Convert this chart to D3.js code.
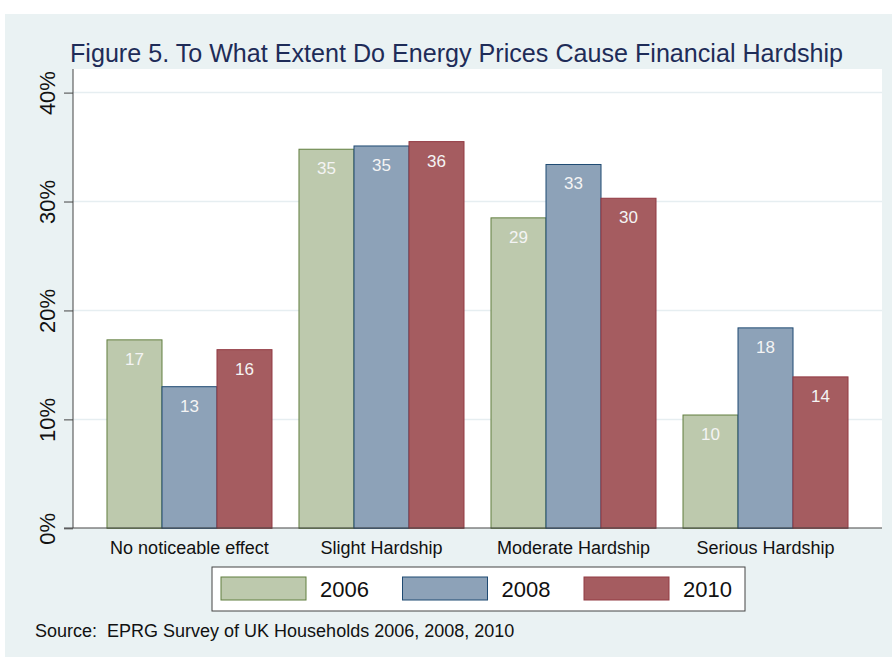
<!DOCTYPE html>
<html>
<head>
<meta charset="utf-8">
<script src="https://cdn.jsdelivr.net/npm/d3@7"></script>
<style>
  body { margin: 0; background: #fff; }
  text { font-family: "Liberation Sans", Arial, sans-serif; }
</style>
</head>
<body>
<div id="chart"></div>
<script>
//data
const categories = ["No noticeable effect", "Slight Hardship", "Moderate Hardship", "Serious Hardship"];
const years = ["2006", "2008", "2010"];
const values2006 = [17.3, 34.8, 28.5, 10.4];
const values2008 = [13.0, 35.1, 33.4, 18.4];
const values2010 = [16.4, 35.5, 30.3, 13.9];
const yTicks = [0, 10, 20, 30, 40];

const series = [values2006, values2008, values2010];

//size
const width = 892;
const height = 657;

//plot region
const plot = { left: 73, right: 882, top: 69, bottom: 528 };

//colours per year
const fills = ["#bdc9ad", "#8da2b8", "#a55c60"];
const strokes = ["#617e3f", "#1f4a72", "#923a43"];

const svg = d3.select("#chart")
  .append("svg")
  .attr("width", width)
  .attr("height", height);

//graph region background
svg.append("rect")
  .attr("x", 5).attr("y", 14)
  .attr("width", width - 5).attr("height", height - 14)
  .attr("fill", "#eaf2f3");

//plot region
svg.append("rect")
  .attr("x", plot.left).attr("y", plot.top)
  .attr("width", plot.right - plot.left).attr("height", plot.bottom - plot.top)
  .attr("fill", "#ffffff");

//scales
const x0 = d3.scaleBand()
  .domain(categories)
  .range([plot.left, plot.right])
  .paddingInner(0.1406)
  .paddingOuter(0.177);

const x1 = d3.scaleBand()
  .domain(years)
  .range([0, x0.bandwidth()]);

const y = d3.scaleLinear().domain([0, 40]).range([528.3, 92.6]);

//gridlines
svg.append("g")
  .selectAll("line")
  .data(yTicks.filter((d) => d > 0))
  .enter()
  .append("line")
  .attr("x1", plot.left).attr("x2", plot.right)
  .attr("y1", (d) => y(d)).attr("y2", (d) => y(d))
  .attr("stroke", "#e6eef1")
  .attr("stroke-width", 1.5);

//y axis
const yAxis = svg.append("g")
  .attr("transform", `translate(${plot.left},0)`)
  .call(d3.axisLeft(y).tickValues(yTicks).tickSize(9).tickSizeOuter(0).tickFormat((d) => d + "%"));

yAxis.select(".domain").remove();
yAxis.selectAll("line").attr("stroke", "#444");
yAxis.selectAll("text")
  .attr("transform", "rotate(-90)")
  .attr("x", 0)
  .attr("y", -18)
  .attr("dy", 0)
  .attr("text-anchor", "middle")
  .attr("font-size", 22)
  .attr("fill", "#111");

//axis lines
svg.append("line")
  .attr("x1", plot.left).attr("x2", plot.left)
  .attr("y1", plot.top).attr("y2", plot.bottom)
  .attr("stroke", "#444");

//bars
const groups = svg.append("g")
  .selectAll("g.group")
  .data(categories)
  .enter()
  .append("g")
  .attr("class", "group")
  .attr("transform", (d) => `translate(${x0(d)},0)`);

const bars = groups.selectAll("g.bar")
  .data((d, i) => years.map((yr, j) => ({ year: yr, j: j, value: series[j][i] })))
  .enter()
  .append("g")
  .attr("class", "bar");

bars.append("rect")
  .attr("x", (d) => x1(d.year))
  .attr("y", (d) => y(d.value))
  .attr("width", x1.bandwidth())
  .attr("height", (d) => y(0) - y(d.value))
  .attr("fill", (d) => fills[d.j])
  .attr("stroke", (d) => strokes[d.j])
  .attr("stroke-width", 1);

//value labels
bars.append("text")
  .attr("x", (d) => x1(d.year) + x1.bandwidth() / 2)
  .attr("y", (d) => y(d.value) + 25)
  .attr("text-anchor", "middle")
  .attr("font-size", 17)
  .attr("fill", "#f4f4f4")
  .text((d) => Math.round(d.value));

//x axis line
svg.append("line")
  .attr("x1", 64).attr("x2", plot.right)
  .attr("y1", plot.bottom).attr("y2", plot.bottom)
  .attr("stroke", "#444");

//category labels
svg.append("g")
  .selectAll("text")
  .data(categories)
  .enter()
  .append("text")
  .attr("x", (d) => x0(d) + x0.bandwidth() / 2)
  .attr("y", 554)
  .attr("text-anchor", "middle")
  .attr("font-size", 18)
  .attr("fill", "#111")
  .text((d) => d);

//title
svg.append("text")
  .attr("x", 70)
  .attr("y", 62)
  .attr("font-size", 26)
  .attr("fill", "#1e2c58")
  .attr("textLength", 773)
  .attr("lengthAdjust", "spacingAndGlyphs")
  .text("Figure 5. To What Extent Do Energy Prices Cause Financial Hardship");

//legend
const legend = svg.append("g");
legend.append("rect")
  .attr("x", 212).attr("y", 567)
  .attr("width", 533).attr("height", 44)
  .attr("fill", "#fff")
  .attr("stroke", "#444");

const item = legend.selectAll("g.item")
  .data(years)
  .enter()
  .append("g")
  .attr("class", "item")
  .attr("transform", (d, i) => `translate(${221 + i * 181.5},577)`);

item.append("rect")
  .attr("width", 85).attr("height", 23)
  .attr("fill", (d, i) => fills[i])
  .attr("stroke", (d, i) => strokes[i]);

item.append("text")
  .attr("x", 99)
  .attr("y", 20)
  .attr("font-size", 22)
  .attr("fill", "#111")
  .text((d) => d);

//source note
svg.append("text")
  .attr("x", 35)
  .attr("y", 637)
  .attr("font-size", 18)
  .attr("fill", "#111")
  .attr("xml:space", "preserve")
  .text("Source:  EPRG Survey of UK Households 2006, 2008, 2010");
</script>
</body>
</html>
